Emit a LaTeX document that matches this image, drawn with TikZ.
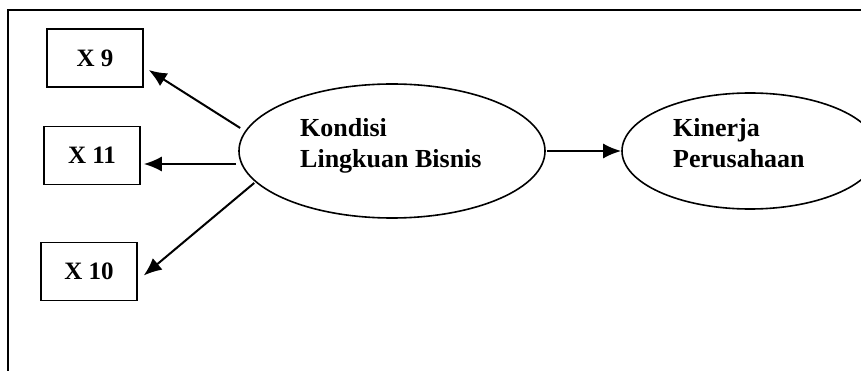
\documentclass[tikz,border=0pt]{standalone}
\usepackage{fontspec}
\setmainfont{Liberation Serif}
\usetikzlibrary{shapes.geometric,arrows.meta}
\begin{document}
\begin{tikzpicture}[x=1pt,y=-1pt,
  frame/.style={line width=2pt},
  varbox/.style={draw,line width=1.5pt,minimum width=96pt,minimum height=58pt,inner sep=0pt,
    font=\fontsize{25}{30}\selectfont\bfseries},
  latent/.style={draw,ellipse,line width=1.6pt,inner sep=0pt},
  lbl/.style={inner sep=0pt,font=\fontsize{26}{31}\selectfont\bfseries},
  arr/.style={line width=2pt,-{Latex[length=18pt,width=15pt]}}]
\useasboundingbox (0,0) rectangle (861,371);
% open frame: left and top sides only
\draw[frame] (8,371) -- (8,10) -- (861,10);
% indicator boxes
\node[varbox] (x9)  at (95,58)    {X 9};
\node[varbox] (x11) at (92,155.5) {X 11};
\node[varbox] (x10) at (89,271.5) {X 10};
% latent variables
\node[latent,minimum width=306pt,minimum height=134pt] (kl) at (392,151) {};
\node[latent,minimum width=256pt,minimum height=116pt] (kp) at (750,151) {};
\node[lbl,anchor=base west] (kl1) at (300,137) {Kondisi};
\node[lbl,anchor=base west] (kl2) at (300,168) {Lingkuan Bisnis};
\node[lbl,anchor=base west] (kp1) at (673,137) {Kinerja};
\node[lbl,anchor=base west] (kp2) at (673,168) {Perusahaan};
% loadings and path
\draw[arr] ([shift={(2,-23)}]kl.west) -- ([shift={(5,12)}]x9.east);
\draw[arr] ([shift={(-2,13)}]kl.west) -- ([shift={(3,8.5)}]x11.east);
\draw[arr] ([shift={(16,32)}]kl.west) -- ([shift={(6,4)}]x10.east);
\draw[arr] ([shift={(1,0)}]kl.east) -- (kp.west);
\end{tikzpicture}
\end{document}
